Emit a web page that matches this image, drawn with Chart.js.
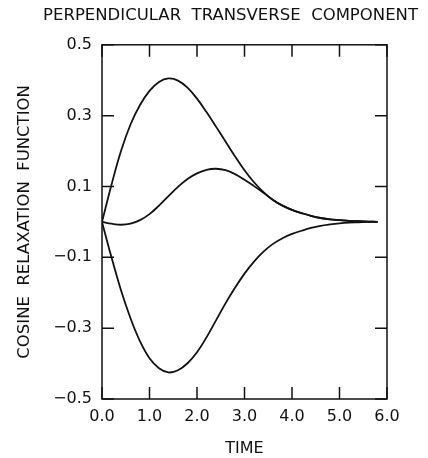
<!DOCTYPE html>
<html>
<head>
<meta charset="utf-8">
<script src="https://cdn.jsdelivr.net/npm/chart.js@4/dist/chart.umd.min.js"></script>
<style>
  html, body { margin: 0; padding: 0; background: #fff; }
  #wrap { width: 428px; height: 458px; }
</style>
</head>
<body>
<div id="wrap"><canvas id="c" width="428" height="458"></canvas></div>
<script>
  // values
  const time = [0, 0.2, 0.4, 0.6, 0.8, 1.0, 1.2, 1.4, 1.6, 1.8, 2.0, 2.2, 2.4, 2.6, 2.8, 3.0,
    3.2, 3.4, 3.6, 3.8, 4.0, 4.2, 4.4, 4.6, 4.8, 5.0, 5.2, 5.4, 5.6, 5.8];
  const upper = [0, 0.105, 0.200, 0.275, 0.330, 0.370, 0.395, 0.405, 0.399, 0.379, 0.348, 0.310,
    0.269, 0.227, 0.185, 0.146, 0.112, 0.084, 0.062, 0.046, 0.034, 0.025, 0.017, 0.011, 0.007,
    0.005, 0.003, 0.002, 0.001, 0];
  const middle = [0, -0.005, -0.008, -0.005, 0.005, 0.022, 0.046, 0.073, 0.099, 0.121, 0.137,
    0.147, 0.150, 0.146, 0.135, 0.119, 0.101, 0.082, 0.062, 0.046, 0.034, 0.025, 0.017, 0.011,
    0.007, 0.005, 0.003, 0.002, 0.001, 0];
  const lower = [0, -0.100, -0.193, -0.272, -0.337, -0.385, -0.413, -0.425, -0.419, -0.399,
    -0.368, -0.326, -0.278, -0.230, -0.186, -0.146, -0.112, -0.084, -0.062, -0.046, -0.034,
    -0.025, -0.017, -0.011, -0.007, -0.004, -0.002, -0.001, 0, 0];
  const xTicks = [0, 1, 2, 3, 4, 5, 6];
  const yTicks = [-0.5, -0.3, -0.1, 0.1, 0.3, 0.5];

  const ink = '#111';
  const font = 'DejaVu Sans, Liberation Sans, sans-serif';

  function pts(ys) {
    return time.map((t, i) => ({ x: t, y: ys[i] }));
  }

  function fmt(v) {
    let s = Math.abs(v).toFixed(1);
    return v < 0 ? '\u2212' + s : s;
  }

  // box round the plot with inward ticks on all four sides
  const frame = {
    id: 'frame',
    afterDatasetsDraw(chart) {
      const ctx = chart.ctx;
      const a = chart.chartArea;
      const xs = chart.scales.x, ys = chart.scales.y;
      const len = 12;
      ctx.save();
      ctx.strokeStyle = ink;
      ctx.lineWidth = 1.5;
      ctx.strokeRect(a.left, a.top, a.right - a.left, a.bottom - a.top);
      ctx.beginPath();
      for (let v of xTicks) {
        let px = xs.getPixelForValue(v);
        ctx.moveTo(px, a.bottom); ctx.lineTo(px, a.bottom - len);
        ctx.moveTo(px, a.top); ctx.lineTo(px, a.top + len);
      }
      for (let v of yTicks) {
        let py = ys.getPixelForValue(v);
        ctx.moveTo(a.left, py); ctx.lineTo(a.left + len, py);
        ctx.moveTo(a.right, py); ctx.lineTo(a.right - len, py);
      }
      ctx.stroke();
      ctx.restore();
    }
  };

  const line = (ys) => ({
    data: pts(ys),
    borderColor: ink,
    borderWidth: 1.8,
    pointRadius: 0,
    fill: false,
    tension: 0.4
  });

  new Chart(document.getElementById('c'), {
    type: 'line',
    data: { datasets: [line(upper), line(middle), line(lower)] },
    plugins: [frame],
    options: {
      responsive: false,
      animation: false,
      layout: { padding: { left: 0, right: 10, top: 0, bottom: 0 } },
      plugins: {
        legend: { display: false },
        tooltip: { enabled: false },
        title: {
          display: true,
          text: 'PERPENDICULAR  TRANSVERSE  COMPONENT',
          color: ink,
          font: { family: font, size: 16.5, weight: 'normal' },
          padding: { top: 6, bottom: 19 },
          align: 'end'
        }
      },
      scales: {
        x: {
          type: 'linear',
          min: 0, max: 6,
          afterBuildTicks: s => { s.ticks = xTicks.map(v => ({ value: v })); },
          afterFit: s => { s.height = 59; },
          grid: { display: false, drawTicks: false },
          border: { display: false },
          ticks: { color: ink, padding: 8, font: { family: font, size: 16 }, callback: v => fmt(v), maxRotation: 0 },
          title: { display: true, text: 'TIME', color: ink, font: { family: font, size: 16 }, padding: { top: 0, bottom: 0 } }
        },
        y: {
          type: 'linear',
          min: -0.5, max: 0.5,
          afterBuildTicks: s => { s.ticks = yTicks.map(v => ({ value: v })); },
          afterFit: s => { s.width = 102; },
          grid: { display: false, drawTicks: false },
          border: { display: false },
          ticks: { color: ink, padding: 10, font: { family: font, size: 16 }, callback: v => fmt(v) },
          title: { display: true, text: 'COSINE  RELAXATION  FUNCTION', color: ink, font: { family: font, size: 16.5 }, padding: { top: 15, bottom: 0 } }
        },
        y2: {
          type: 'linear',
          position: 'right',
          min: -0.5, max: 0.5,
          afterFit: s => { s.width = 31; },
          grid: { display: false, drawTicks: false },
          border: { display: false },
          ticks: { display: false }
        }
      }
    }
  });
</script>
</body>
</html>
